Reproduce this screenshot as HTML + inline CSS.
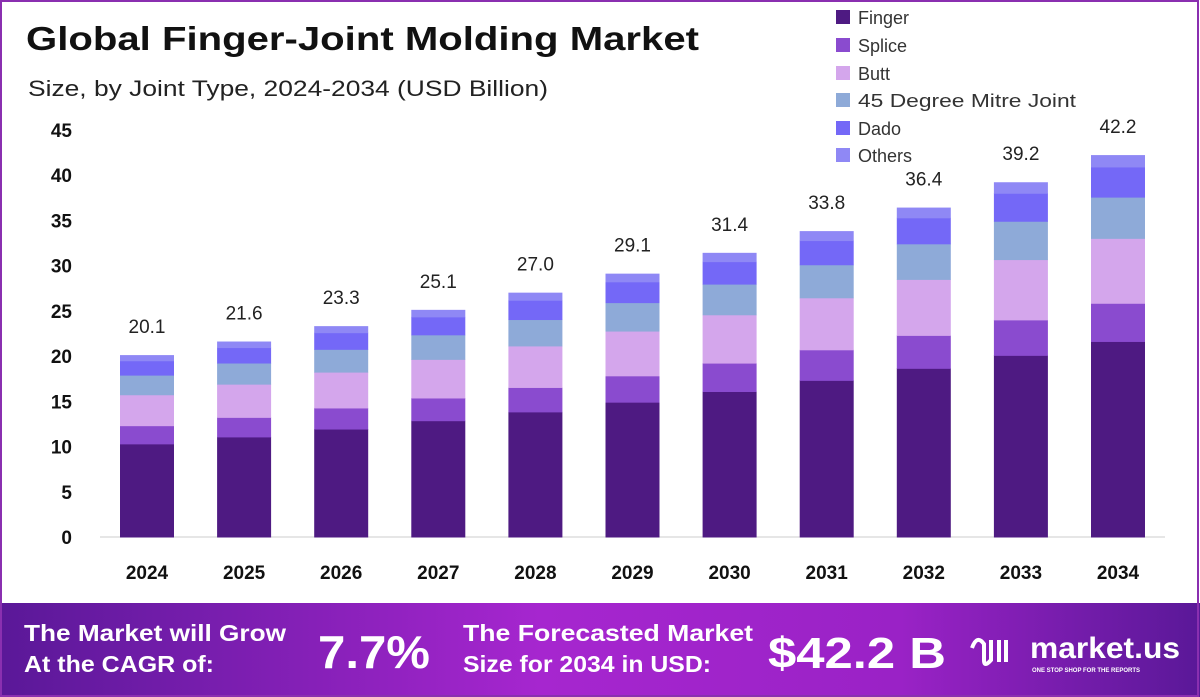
<!DOCTYPE html>
<html><head><meta charset="utf-8"><style>
html,body{margin:0;padding:0;background:#fff}
svg{display:block}
text{font-family:"Liberation Sans",sans-serif}
</style></head><body>
<svg id="s" width="1200" height="697" xmlns="http://www.w3.org/2000/svg">
<defs>
<linearGradient id="g" x1="0" x2="1" y1="0" y2="0">
<stop offset="0" stop-color="#5a1898"/><stop offset="0.45" stop-color="#a626cf"/><stop offset="0.75" stop-color="#9a22c6"/><stop offset="1" stop-color="#5a1898"/>
</linearGradient>
</defs>
<rect x="0" y="0" width="1200" height="697" fill="#fff"/>
<rect x="0" y="603" width="1200" height="94" fill="url(#g)"/>
<rect x="1" y="1" width="1197" height="695" fill="none" stroke="#8a2fb0" stroke-width="2"/>
<text x="26" y="50" font-size="33" font-weight="bold" fill="#111" textLength="673" lengthAdjust="spacingAndGlyphs">Global Finger-Joint Molding Market</text>
<text x="28" y="96" font-size="22" fill="#222" textLength="520" lengthAdjust="spacingAndGlyphs">Size, by Joint Type, 2024-2034 (USD Billion)</text>
<line x1="100" y1="537" x2="1165" y2="537" stroke="#ccc" stroke-width="1"/>
<g id="bars"></g>
<g font-size="18" fill="#333">
<rect x="836" y="10" width="14" height="14" fill="#4e1a82"/><text x="858" y="24">Finger</text>
<rect x="836" y="38" width="14" height="14" fill="#8a4bcf"/><text x="858" y="52">Splice</text>
<rect x="836" y="66" width="14" height="14" fill="#d4a6ec"/><text x="858" y="80">Butt</text>
<rect x="836" y="93" width="14" height="14" fill="#8eaad8"/><text x="858" y="107" textLength="218" lengthAdjust="spacingAndGlyphs">45 Degree Mitre Joint</text>
<rect x="836" y="121" width="14" height="14" fill="#7468f7"/><text x="858" y="135">Dado</text>
<rect x="836" y="148" width="14" height="14" fill="#8f88f5"/><text x="858" y="162">Others</text>
</g>
<g fill="#fff" font-weight="bold">
<text x="24" y="641" font-size="23" textLength="262" lengthAdjust="spacingAndGlyphs">The Market will Grow</text>
<text x="24" y="672" font-size="23" textLength="190" lengthAdjust="spacingAndGlyphs">At the CAGR of:</text>
<text x="318" y="668" font-size="46" textLength="112" lengthAdjust="spacingAndGlyphs">7.7%</text>
<text x="463" y="641" font-size="23" textLength="290" lengthAdjust="spacingAndGlyphs">The Forecasted Market</text>
<text x="463" y="672" font-size="23" textLength="248" lengthAdjust="spacingAndGlyphs">Size for 2034 in USD:</text>
<text x="768" y="668" font-size="44" textLength="178" lengthAdjust="spacingAndGlyphs">$42.2 B</text>
<text x="1030" y="658" font-size="30" textLength="150" lengthAdjust="spacingAndGlyphs">market.us</text>
<text x="1032" y="672" font-size="6">ONE STOP SHOP FOR THE REPORTS</text>
<path d="M972 648 q5 -14 12 -4 v16 q0 8 7 0 v-20 m8 0 v22 m7 -22 v22" stroke="#fff" stroke-width="4" fill="none"/>
</g>
</svg>
<script>
var vals=[20.1,21.6,23.3,25.1,27.0,29.1,31.4,33.8,36.4,39.2,42.2];
var fr=[0.512,0.10,0.17,0.108,0.079,0.031];
var col=["#4e1a82","#8a4bcf","#d4a6ec","#8eaad8","#7468f7","#8f88f5"];
var g=document.getElementById('bars'),h='';
var k=9.05;
for(var t=0;t<=45;t+=5){h+='<text x="72" y="'+(537-k*t+7)+'" font-size="19" font-weight="bold" text-anchor="end" fill="#111">'+t+'</text>';}
vals.forEach(function(v,i){
 var cx=147+i*97.1,x=cx-27,y=537;
 fr.forEach(function(f,j){var hh=v*k*f;y-=hh;h+='<rect x="'+x+'" y="'+y+'" width="54" height="'+(hh+0.5)+'" fill="'+col[j]+'"/>';});
 h+='<text x="'+cx+'" y="'+(y-22)+'" font-size="19" text-anchor="middle" fill="#222">'+v.toFixed(1)+'</text>';
 h+='<text x="'+cx+'" y="579" font-size="19" font-weight="bold" text-anchor="middle" fill="#111">'+(2024+i)+'</text>';
});
g.innerHTML=h;
</script>
</body></html>
